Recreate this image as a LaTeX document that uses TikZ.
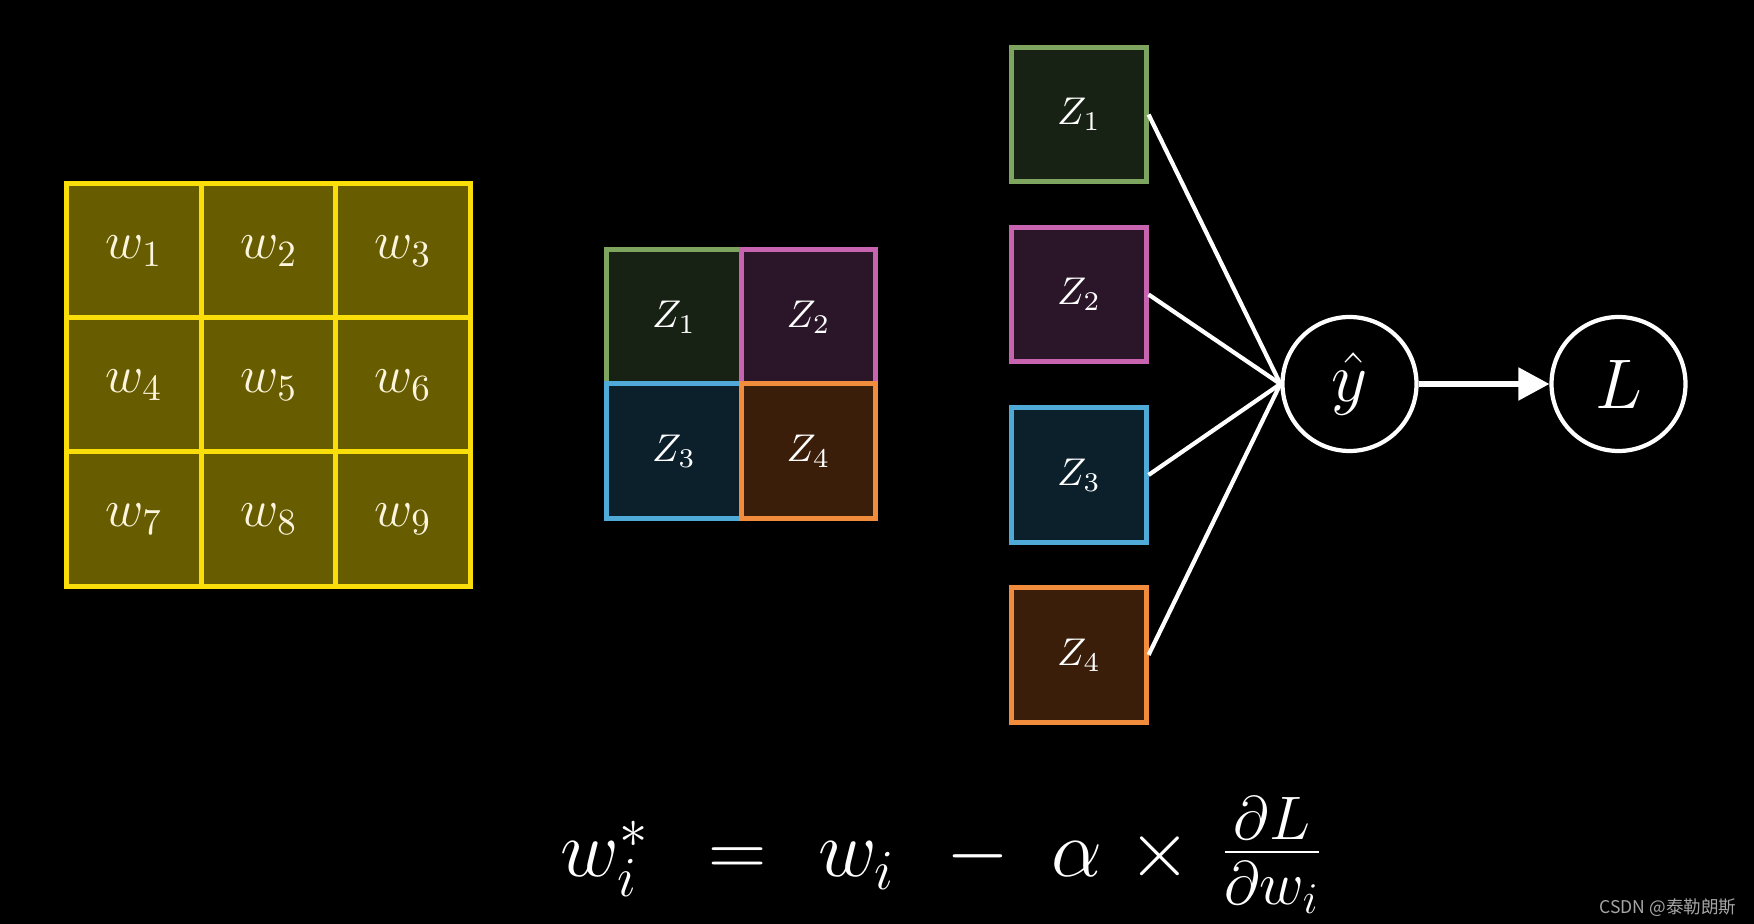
\RequirePackage{fix-cm}
\documentclass[tikz,border=0pt]{standalone}
\usepackage{fontspec}
\newfontfamily\cjk{Noto Sans CJK SC}
\usetikzlibrary{arrows.meta}
\definecolor{wfill}{RGB}{104,92,0}
\definecolor{wline}{RGB}{250,222,10}
\definecolor{wtext}{RGB}{250,245,220}
\definecolor{gline}{RGB}{125,165,95}
\definecolor{gfill}{RGB}{24,34,20}
\definecolor{pline}{RGB}{200,100,175}
\definecolor{pfill}{RGB}{42,22,40}
\definecolor{bline}{RGB}{80,170,215}
\definecolor{bfill}{RGB}{12,32,44}
\definecolor{oline}{RGB}{240,140,60}
\definecolor{ofill}{RGB}{58,30,10}
\definecolor{mark}{RGB}{165,165,165}
\begin{document}
\begin{tikzpicture}[x=0.1mm,y=-0.1mm,
  wcell/.style={draw=wline,fill=wfill,line width=1.4pt,minimum size=13.45mm,inner sep=0pt,text=wtext,font=\fontsize{15}{18}\selectfont},
  zcell/.style={line width=1.3pt,minimum size=13.45mm,inner sep=0pt,text=white,font=\fontsize{11}{13}\selectfont},
  zg/.style={zcell,draw=gline,fill=gfill},
  zp/.style={zcell,draw=pline,fill=pfill},
  zb/.style={zcell,draw=bline,fill=bfill},
  zo/.style={zcell,draw=oline,fill=ofill},
  neuron/.style={circle,draw=white,line width=1.2pt,minimum size=13.4mm,inner sep=0pt,text=white,font=\fontsize{20}{24}\selectfont},
  link/.style={white,line width=1.2pt},
  eq/.style={text=white,font=\fontsize{23}{28}\selectfont,anchor=base,inner sep=0pt}
]
\fill[black] (0,0) rectangle (1754,924);
\useasboundingbox (0,0) rectangle (1754,924);

% 3x3 weight grid
\node[wcell] (w1) at (134,251) {$w_1$};
\node[wcell] (w2) at (269,251) {$w_2$};
\node[wcell] (w3) at (403,251) {$w_3$};
\node[wcell] (w4) at (134,385) {$w_4$};
\node[wcell] (w5) at (269,385) {$w_5$};
\node[wcell] (w6) at (403,385) {$w_6$};
\node[wcell] (w7) at (134,519) {$w_7$};
\node[wcell] (w8) at (269,519) {$w_8$};
\node[wcell] (w9) at (403,519) {$w_9$};

% 2x2 feature map
\node[zg] (a1) at (674,317) {$Z_1$};
\node[zp] (a2) at (808.5,317) {$Z_2$};
\node[zb] (a3) at (674,451) {$Z_3$};
\node[zo] (a4) at (808.5,451) {$Z_4$};

% column
\node[zg] (z1) at (1079,114.5) {$Z_1$};
\node[zp] (z2) at (1079,294.5) {$Z_2$};
\node[zb] (z3) at (1079,475) {$Z_3$};
\node[zo] (z4) at (1079,655) {$Z_4$};

\node[neuron] (yhat) at (1349.5,384) {$\hat{y}$};
\node[neuron] (L) at (1618.5,384) {$L$};

\foreach \i in {1,...,4} \draw[link] (z\i.east) -- (yhat.west);
\draw[white,line width=1.5pt,-{Triangle[length=3.1mm,width=3.2mm]}] (yhat) -- (L);

% formula
\node[eq,anchor=base west] (f1) at (560,877) {$w_i^*$};
\node[eq] (f2) at (738,877) {$=$};
\node[eq] (f3) at (857,877) {$w_i$};
\node[eq] (f4) at (978,877) {$-$};
\node[eq] (f5) at (1077,877) {$\alpha$};
\node[eq] (f6) at (1160,877) {$\times$};
\node[eq,font=\fontsize{25}{30}\selectfont] (f7) at (1272,874) {$\frac{\partial L}{\partial w_i}$};

\node[anchor=base east,inner sep=0pt,text=mark,font=\cjk\fontsize{5}{6}\selectfont] (wm) at (1737,913) {CSDN @泰勒朗斯};
\end{tikzpicture}
\end{document}
